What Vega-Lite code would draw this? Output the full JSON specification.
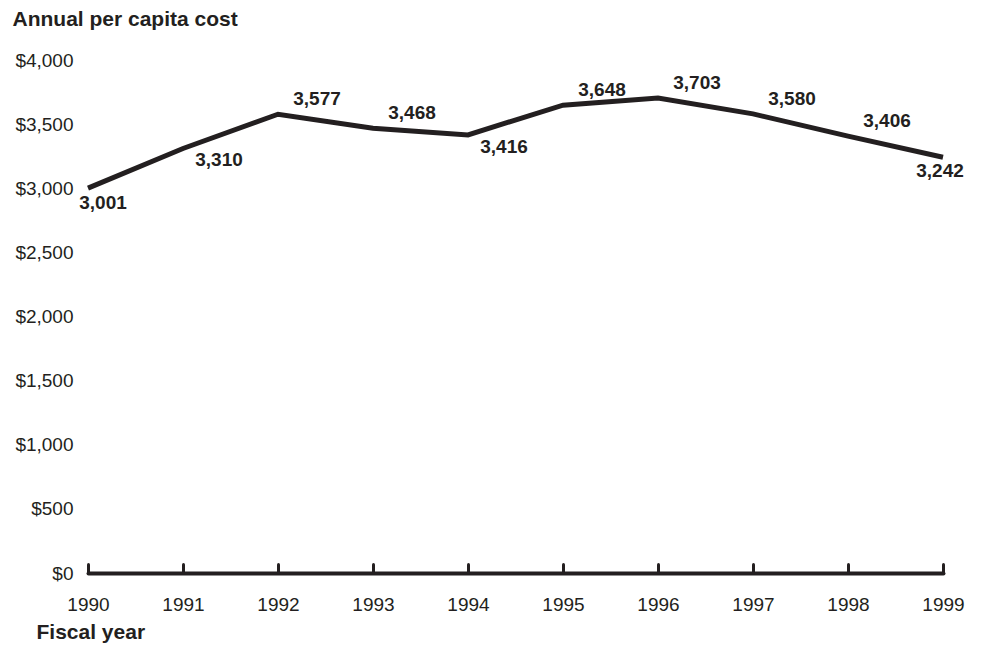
{
  "$schema": "https://vega.github.io/schema/vega-lite/v6.json",
  "autosize": "none",
  "width": 855,
  "height": 513,
  "padding": {"left": 88, "top": 60, "right": 38, "bottom": 72},
  "background": "white",
  "config": {
    "view": {"stroke": null},
    "font": "Liberation Sans"
  },
  "data": {
    "values": [
      {"year": 1990, "cost": 3001, "side": "start"},
      {"year": 1991, "cost": 3310, "side": "below"},
      {"year": 1992, "cost": 3577, "side": "above"},
      {"year": 1993, "cost": 3468, "side": "above"},
      {"year": 1994, "cost": 3416, "side": "below"},
      {"year": 1995, "cost": 3648, "side": "above"},
      {"year": 1996, "cost": 3703, "side": "above"},
      {"year": 1997, "cost": 3580, "side": "above"},
      {"year": 1998, "cost": 3406, "side": "above"},
      {"year": 1999, "cost": 3242, "side": "end"}
    ]
  },
  "encoding": {
    "x": {
      "field": "year",
      "type": "quantitative",
      "scale": {"domain": [1990, 1999], "nice": false, "zero": false},
      "axis": {
        "values": [1990, 1991, 1992, 1993, 1994, 1995, 1996, 1997, 1998, 1999],
        "format": "d",
        "grid": false,
        "domainColor": "#231f20",
        "domainWidth": 4,
        "domainCap": "round",
        "tickColor": "#231f20",
        "tickWidth": 3,
        "tickSize": -9,
        "tickCap": "round",
        "labelFontSize": 19,
        "labelColor": "#231f20",
        "labelPadding": 31,
        "labelFlush": false,
        "title": "Fiscal year",
        "titleFontSize": 21,
        "titleFontWeight": "bold",
        "titleColor": "#231f20",
        "titleAnchor": "start",
        "titleAlign": "left",
        "titleBaseline": "alphabetic",
        "titleX": -52,
        "titleY": 65
      }
    },
    "y": {
      "field": "cost",
      "type": "quantitative",
      "scale": {"domain": [0, 4000], "nice": false},
      "axis": {
        "values": [0, 500, 1000, 1500, 2000, 2500, 3000, 3500, 4000],
        "format": "$,d",
        "grid": false,
        "domain": false,
        "ticks": false,
        "labelFontSize": 19,
        "labelColor": "#231f20",
        "labelPadding": 15,
        "title": "Annual per capita cost",
        "titleFontSize": 21,
        "titleFontWeight": "bold",
        "titleColor": "#231f20",
        "titleAngle": 0,
        "titleAlign": "left",
        "titleBaseline": "alphabetic",
        "titleX": -76,
        "titleY": -35
      }
    }
  },
  "layer": [
    {
      "mark": {"type": "line", "color": "#231f20", "strokeWidth": 5, "strokeJoin": "miter", "strokeCap": "butt"}
    },
    {
      "transform": [{"filter": "datum.side === 'above'"}],
      "mark": {"type": "text", "fontSize": 19, "fontWeight": "bold", "color": "#231f20", "dx": 39, "dy": -15, "align": "center", "baseline": "middle"},
      "encoding": {"text": {"field": "cost", "type": "quantitative", "format": ","}}
    },
    {
      "transform": [{"filter": "datum.side === 'below'"}],
      "mark": {"type": "text", "fontSize": 19, "fontWeight": "bold", "color": "#231f20", "dx": 36, "dy": 12, "align": "center", "baseline": "middle"},
      "encoding": {"text": {"field": "cost", "type": "quantitative", "format": ","}}
    },
    {
      "transform": [{"filter": "datum.side === 'start'"}],
      "mark": {"type": "text", "fontSize": 19, "fontWeight": "bold", "color": "#231f20", "dx": 15, "dy": 15, "align": "center", "baseline": "middle"},
      "encoding": {"text": {"field": "cost", "type": "quantitative", "format": ","}}
    },
    {
      "transform": [{"filter": "datum.side === 'end'"}],
      "mark": {"type": "text", "fontSize": 19, "fontWeight": "bold", "color": "#231f20", "dx": -3, "dy": 14, "align": "center", "baseline": "middle"},
      "encoding": {"text": {"field": "cost", "type": "quantitative", "format": ","}}
    }
  ]
}
